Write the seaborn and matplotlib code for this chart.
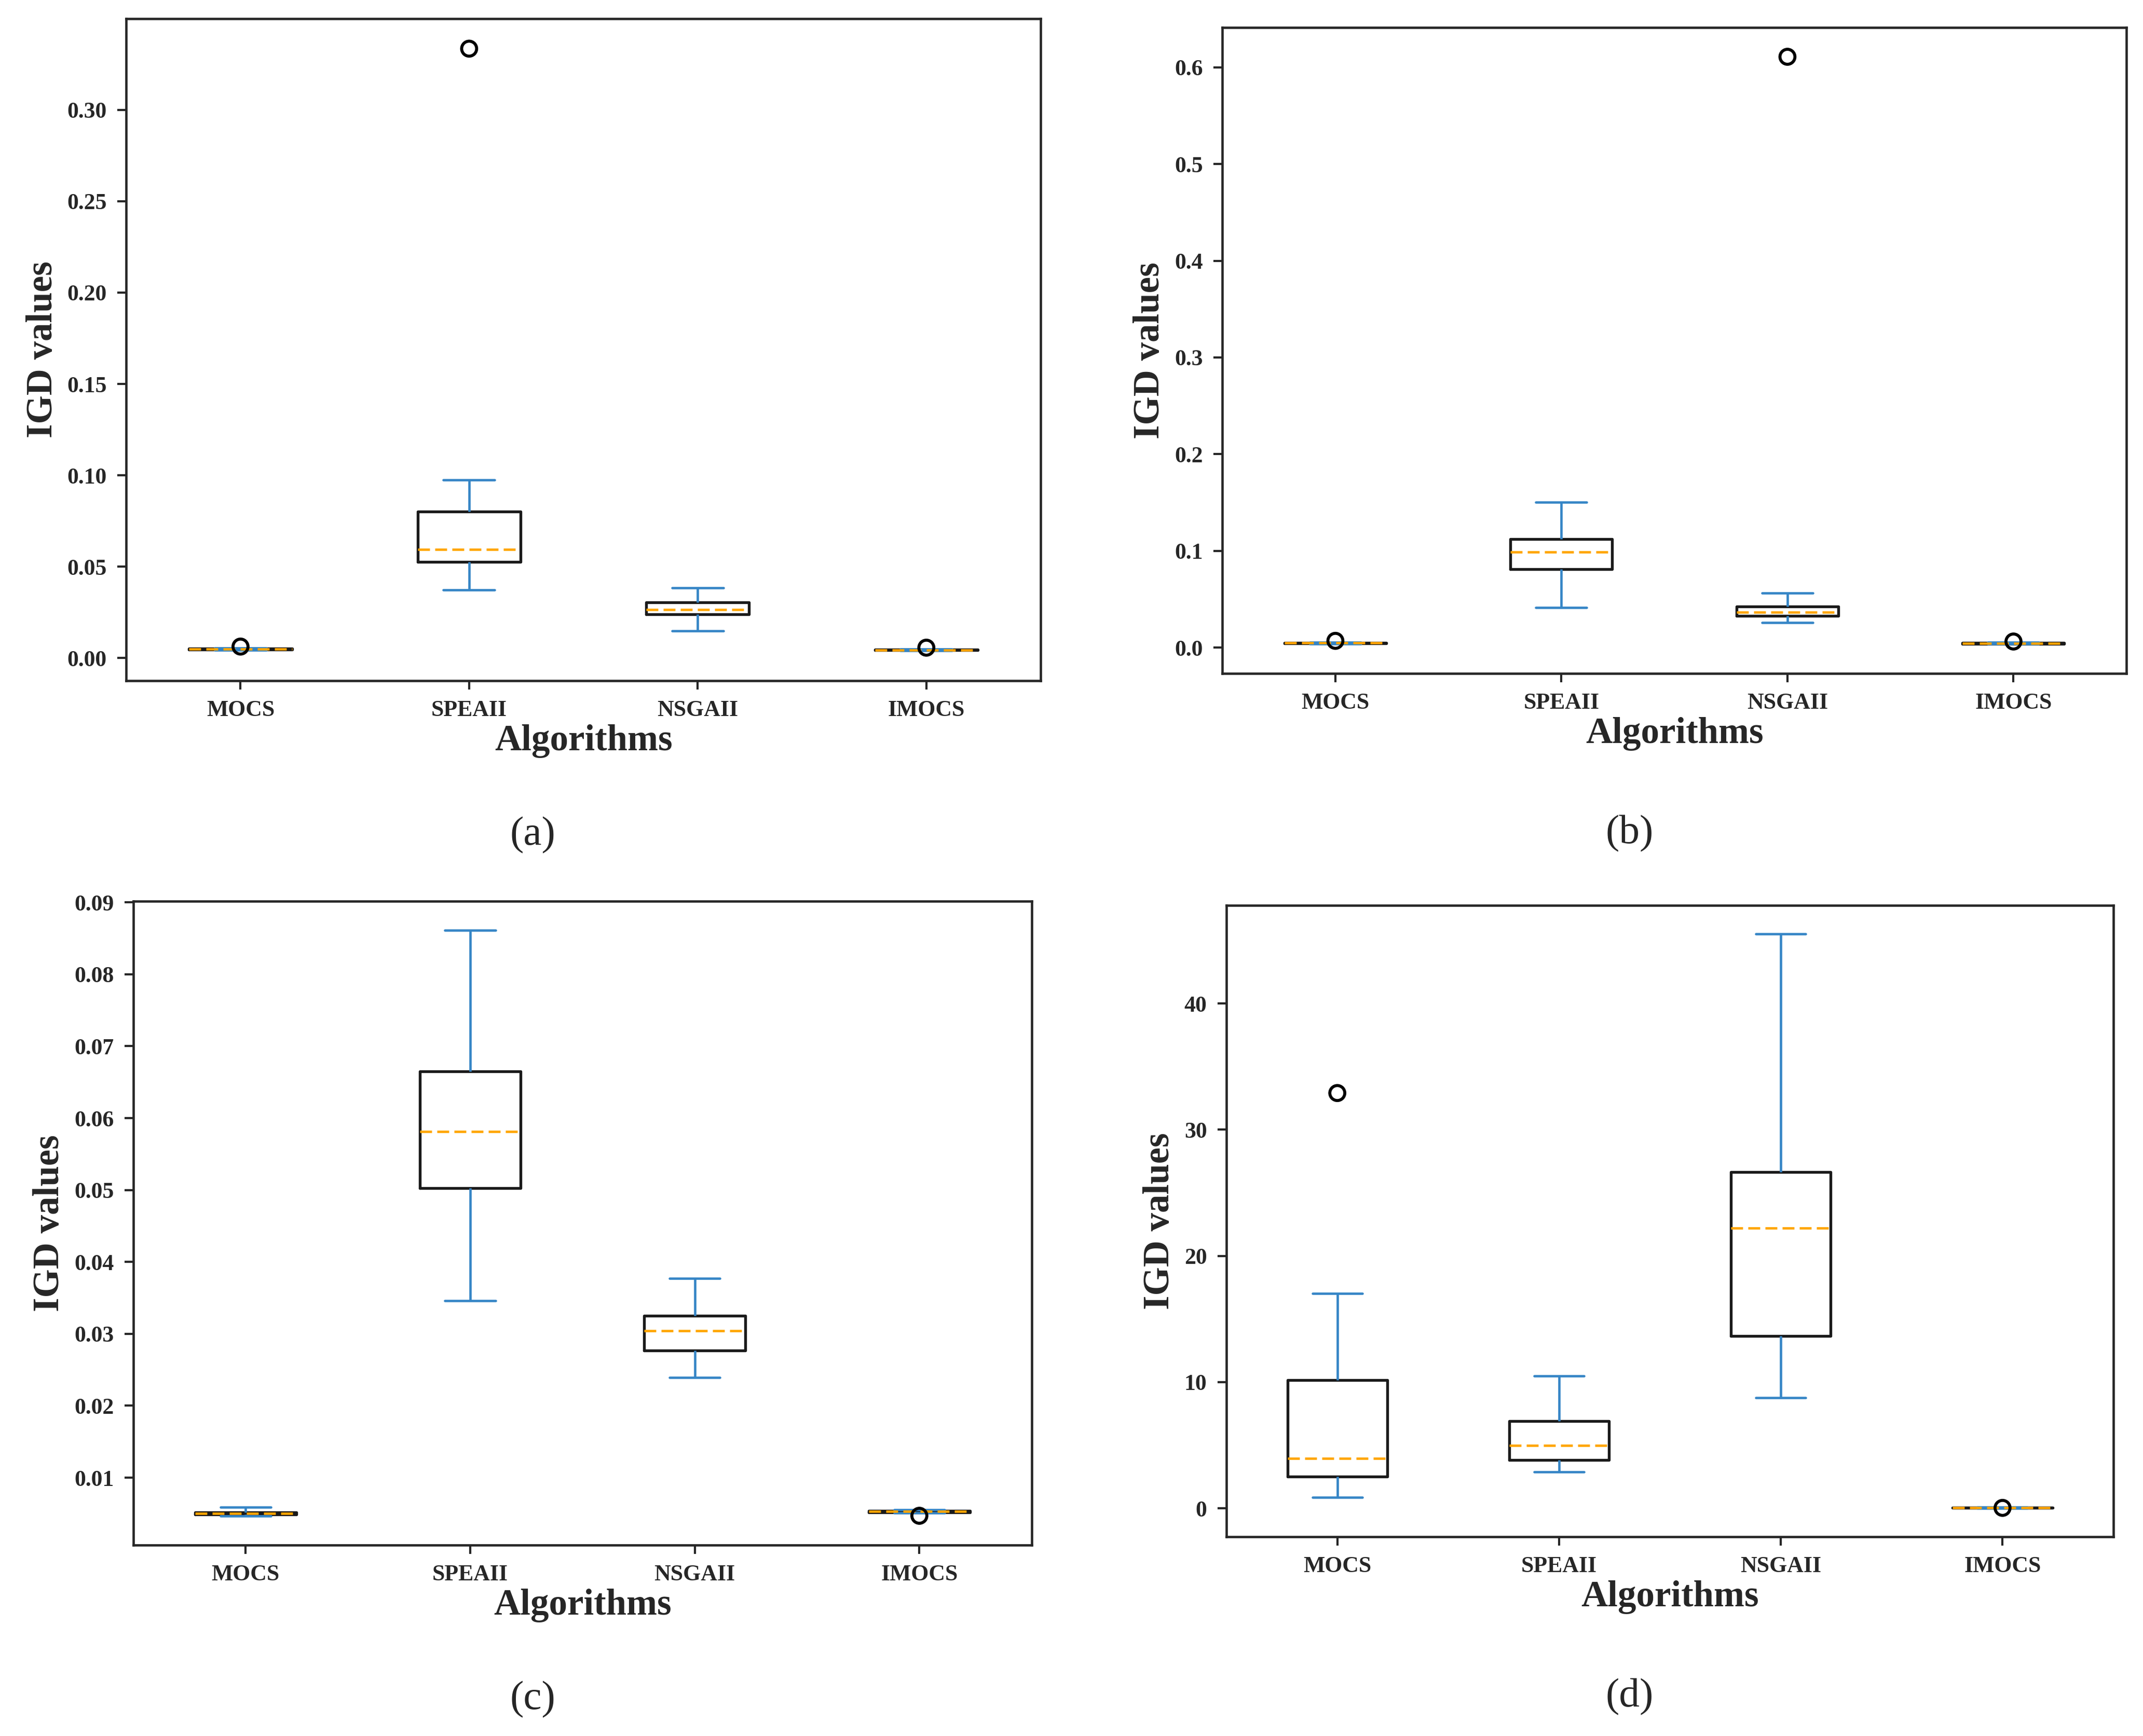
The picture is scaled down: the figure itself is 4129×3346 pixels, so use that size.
import numpy as np
import pandas as pd
import matplotlib
matplotlib.use("Agg")
import matplotlib.pyplot as plt
import seaborn as sns

# algorithms on the x axis
algorithms = ["MOCS", "SPEAII", "NSGAII", "IMOCS"]

# box summaries: [lower whisker, Q1, median, Q3, upper whisker]
panel_a = {
    "MOCS":   [0.0043, 0.0046, 0.0048, 0.0051, 0.0054],
    "SPEAII": [0.0372, 0.0526, 0.0594, 0.0801, 0.0974],
    "NSGAII": [0.0148, 0.0239, 0.0266, 0.0305, 0.0384],
    "IMOCS":  [0.0041, 0.0043, 0.0045, 0.0047, 0.0050],
}
outliers_a = {"MOCS": [0.0063], "SPEAII": [0.3335], "IMOCS": [0.0057]}

panel_b = {
    "MOCS":   [0.0038, 0.0042, 0.0046, 0.0050, 0.0055],
    "SPEAII": [0.0411, 0.0811, 0.0989, 0.1122, 0.1503],
    "NSGAII": [0.0257, 0.0326, 0.0366, 0.0423, 0.0566],
    "IMOCS":  [0.0036, 0.0040, 0.0044, 0.0048, 0.0052],
}
outliers_b = {"MOCS": [0.0069], "NSGAII": [0.611], "IMOCS": [0.0062]}

panel_c = {
    "MOCS":   [0.0047, 0.0049, 0.0050, 0.0052, 0.0059],
    "SPEAII": [0.0346, 0.0503, 0.0581, 0.0665, 0.0861],
    "NSGAII": [0.0239, 0.0277, 0.0304, 0.0325, 0.0377],
    "IMOCS":  [0.0051, 0.0052, 0.0053, 0.0054, 0.0055],
}
outliers_c = {"IMOCS": [0.0047]}

panel_d = {
    "MOCS":   [0.88, 2.50, 3.94, 10.16, 17.04],
    "SPEAII": [2.89, 3.81, 4.99, 6.92, 10.47],
    "NSGAII": [8.76, 13.67, 22.2, 26.63, 45.5],
    "IMOCS":  [0.02, 0.03, 0.04, 0.05, 0.07],
}
outliers_d = {"MOCS": [32.9], "IMOCS": [0.03]}

captions = ["(a)", "(b)", "(c)", "(d)"]

sns.set_theme(style="white")
plt.rcParams["font.family"] = ["Liberation Serif", "DejaVu Serif"]
plt.rcParams["axes.edgecolor"] = "#262626"
plt.rcParams["axes.linewidth"] = 1.1
plt.rcParams["xtick.bottom"] = True
plt.rcParams["ytick.left"] = True

BLUE = "#3585c6"


def to_long(summary):
    rows = []
    for alg in algorithms:
        for v in summary[alg]:
            rows.append({"Algorithm": alg, "IGD": v})
    return pd.DataFrame(rows)


def outliers_long(outl):
    rows = []
    for alg in algorithms:
        for v in outl.get(alg, []):
            rows.append({"Algorithm": alg, "IGD": v})
    return pd.DataFrame(rows)


def draw_panel(ax, summary, outl):
    df = to_long(summary)
    sns.boxplot(data=df, x="Algorithm", y="IGD", order=algorithms,
                width=0.45, whis=(0, 100), fill=False, color="#1a1a1a",
                linewidth=1.3, showfliers=False,
                medianprops=dict(color="orange", linestyle=(0, (5, 2.2)),
                                 linewidth=1.1),
                whiskerprops=dict(color=BLUE, linewidth=1.1),
                capprops=dict(color=BLUE, linewidth=1.1),
                ax=ax)
    fl = outliers_long(outl)
    sns.scatterplot(data=fl, x="Algorithm", y="IGD", marker="o", s=48,
                    facecolor="none", edgecolor="black", linewidth=1.4,
                    zorder=5, ax=ax)
    ax.set_xlim(-0.5, 3.5)
    ax.set_xlabel("Algorithms", fontsize=17, fontweight="bold", labelpad=1.5)
    ax.set_ylabel("IGD values", fontsize=17, fontweight="bold", labelpad=3.5)
    ax.tick_params(axis="both", direction="out", length=4, width=1.0,
                   color="#262626", labelsize=10.5, pad=5)
    for lab in ax.get_xticklabels() + ax.get_yticklabels():
        lab.set_fontweight("bold")
    for sp in ax.spines.values():
        sp.set_visible(True)
        sp.set_color("#262626")
        sp.set_linewidth(1.1)


fig = plt.figure(figsize=(4129 / 300, 3346 / 300), dpi=300)

positions = [
    [0.0589, 0.6079, 0.4267, 0.3814],
    [0.5704, 0.6121, 0.4219, 0.3721],
    [0.0622, 0.1100, 0.4192, 0.3709],
    [0.5723, 0.1148, 0.4139, 0.3637],
]
panels = [(panel_a, outliers_a), (panel_b, outliers_b),
          (panel_c, outliers_c), (panel_d, outliers_d)]

for pos, (summary, outl) in zip(positions, panels):
    ax = fig.add_axes(pos)
    draw_panel(ax, summary, outl)

caption_xy = [(0.2485, 0.519), (0.7605, 0.520), (0.2485, 0.0212), (0.7605, 0.0227)]
for (cx, cy), cap in zip(caption_xy, captions):
    fig.text(cx, cy, cap, ha="center", va="center", fontsize=19)

fig.savefig("out.png", dpi=300)
